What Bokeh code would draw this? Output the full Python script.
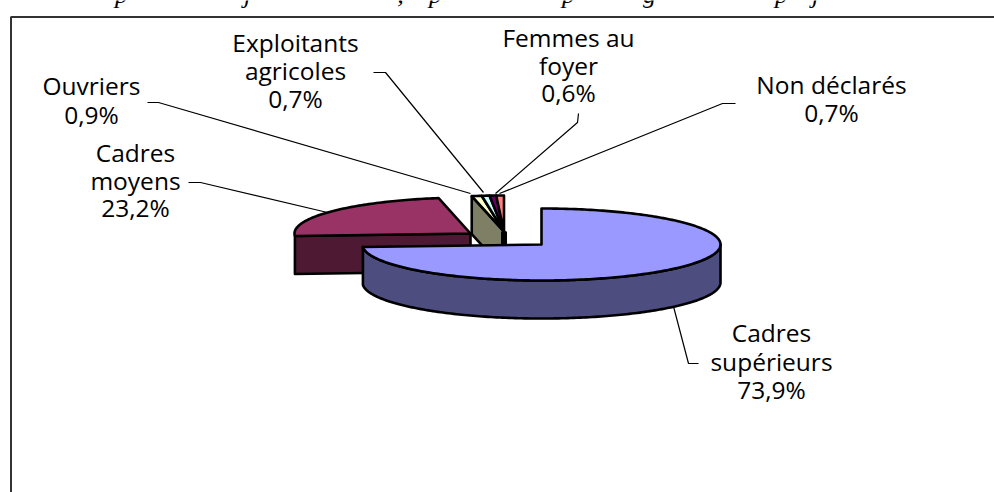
import math
from bokeh.plotting import figure
from bokeh.embed import file_html
from bokeh.resources import INLINE
from bokeh.core.properties import value as V

categories = ["Cadres supérieurs", "Cadres moyens", "Ouvriers", "Exploitants agricoles", "Femmes au foyer", "Non déclarés"]
values = [73.9, 23.2, 0.9, 0.7, 0.6, 0.7]
top_colors = ["#9999FF", "#993366", "#FFFFCC", "#CCFFFF", "#660066", "#FF8080"]
wall_colors = ["#4D4D80", "#4D1933", "#7F7F66", "#668080", "#330033", "#804040"]

label_lines = [["Cadres", "supérieurs"], ["Cadres", "moyens"], ["Ouvriers"], ["Exploitants", "agricoles"], ["Femmes au", "foyer"], ["Non déclarés"]]
label_x = [771, 135, 91, 295, 568, 831]
label_y0 = [332, 152, 85, 42, 37, 84]
label_step = [28.5, 27.5, 29, 28, 27.5, 28]
leaders = [
    ([673, 688, 698], [306, 363, 363]),
    ([188, 200, 327], [182, 182, 212]),
    ([147, 158, 470], [102, 102, 193]),
    ([373, 385, 483], [72, 72, 192]),
    ([578, 577, 495], [113, 122, 193]),
    ([735, 722, 499], [103, 103, 193]),
]
# only the descenders of the cropped title are visible in the reference
title_glyphs = ["p", "j", ",", "p", "p", "g", "p", "j"]
title_x = [121, 247, 400, 435, 568, 649, 781, 815]

W, H = 994, 492
p = figure(width=W, height=H, x_range=(0, W), y_range=(H, 0), toolbar_location=None,
           output_backend="svg", min_border=0, outline_line_color=None,
           x_axis_location=None, y_axis_location=None)
p.grid.visible = False
p.background_fill_color = "white"
p.border_fill_color = "white"

DEPTH = 38
RY = 36
LW = 2.6
centers = [(541, 244, 179), (470, 233, 176), (503.5, 231, 178), (503.5, 231, 178), (503.5, 231, 178), (503.5, 231, 178)]


def pt(c, a):
    r = math.radians(a)
    return c[0] + c[2] * math.sin(r), c[1] - RY * math.cos(r)


def arc(c, a0, a1):
    n = max(2, int(abs(a1 - a0)) + 2)
    return [pt(c, a0 + (a1 - a0) * i / (n - 1)) for i in range(n)]


def poly(points, color):
    p.patch([q[0] for q in points], [q[1] for q in points], fill_color=color,
            line_color="black", line_width=LW, line_join="round")


starts, ends = [], []
cum = 0.0
for v in values:
    starts.append(cum * 3.6)
    cum += v
    ends.append(cum * 3.6)
ends[-1] = 360.0  # the pie closes on the last slice

# frame, running off the page to the right and the bottom
p.line([W + 5, 10.5, 10.5], [16.5, 16.5, H + 5], line_color="#333333", line_width=2)

# Cadres moyens: cut face, then top
c = centers[1]
a = pt(c, starts[1])
poly([(c[0], c[1]), a, (a[0], a[1] + DEPTH), (c[0], c[1] + DEPTH)], wall_colors[1])
poly([(c[0], c[1])] + arc(c, starts[1], ends[1]), top_colors[1])

# small slices: cut face of the first, closing wall, tops
c = centers[2]
a = pt(c, starts[2])
poly([(c[0], c[1]), a, (a[0], a[1] + DEPTH), (c[0], c[1] + DEPTH)], wall_colors[2])
p.line([c[0], c[0]], [c[1], c[1] + DEPTH], line_color="black", line_width=6)
for i in range(2, 6):
    poly([(centers[i][0], centers[i][1])] + arc(centers[i], starts[i], ends[i]), top_colors[i])

# Cadres supérieurs: rim, then top
c = centers[0]
rim = arc(c, 90, ends[0])
poly(rim + [(q[0], q[1] + DEPTH) for q in reversed(rim)], wall_colors[0])
poly([(c[0], c[1])] + arc(c, starts[0], ends[0]), top_colors[0])

for xs, ys in leaders:
    p.line(xs, ys, line_color="black", line_width=1.2)

tx, ty, tt = [], [], []
for i, lines in enumerate(label_lines):
    rows = lines + [f"{values[i]:.1f}".replace(".", ",") + "%"]
    for j, row in enumerate(rows):
        tx.append(label_x[i])
        ty.append(label_y0[i] + j * label_step[i])
        tt.append(row)
p.text(tx, ty, text=tt, text_font=V("Open Sans"), text_font_size="24.5px", text_color="black",
       text_align="center", text_baseline="middle")

p.text(title_x, [-6] * len(title_x), text=title_glyphs, text_font=V("Liberation Serif"), text_font_size="26px",
       text_font_style="italic", text_color="black", text_align="center", text_baseline="alphabetic")

open("out.html", "w").write(file_html(p, INLINE))
